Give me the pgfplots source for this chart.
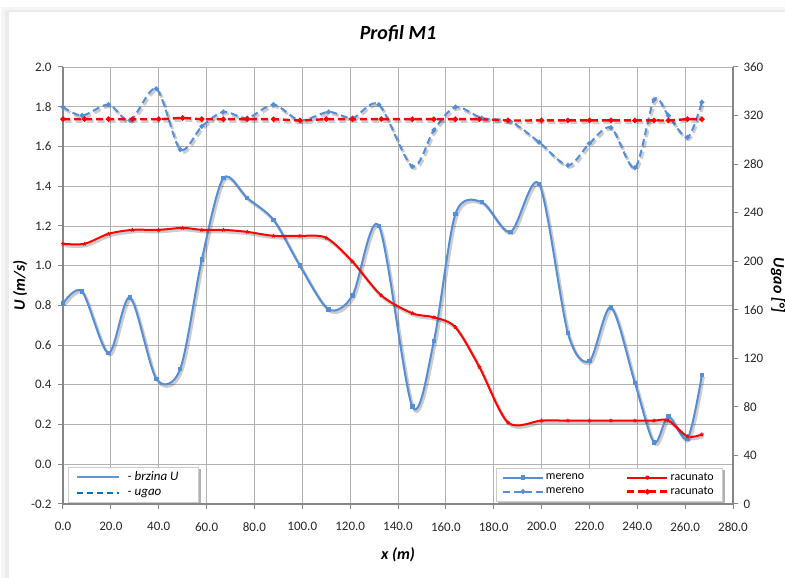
\documentclass[border=0pt]{standalone}
\usepackage{pgfplots}
\pgfplotsset{compat=1.18}
\usepackage{pgfplotstable}
\usepackage{fontspec}
\setmainfont{Carlito}
\pgfdeclarelayer{back}
\pgfsetlayers{back,main}
\definecolor{mblue}{RGB}{85,142,213}
\definecolor{lblue}{RGB}{91,155,213}
\definecolor{dblue}{RGB}{0,112,192}
\definecolor{gridc}{RGB}{178,178,178}
\definecolor{axc}{RGB}{134,134,134}

\pgfplotstableread{
xb u a xr ur ar
0 0.81 327 0 1.11 317
8 0.87 320 9 1.11 317
19 0.56 329 19 1.16 317
28 0.84 316 29 1.18 317
39 0.43 342 40 1.18 317
49 0.48 292 50 1.19 318
58 1.03 311 58 1.18 317
67 1.44 323 67 1.18 317
77 1.34 318 77 1.17 317
88 1.23 329 88 1.15 317
99 1.00 316 99 1.15 316
111 0.78 323 110 1.14 317
121 0.85 318 121 1.02 317
132 1.20 329 133 0.85 317
146 0.29 278 146 0.76 317
155 0.62 308 155 0.74 317
164 1.26 327 164 0.69 317
175 1.32 318 174 0.49 317
187 1.17 315 186 0.21 316
199 1.41 298 200 0.22 316
211 0.66 279 211 0.22 316
220 0.52 297 220 0.22 316
229 0.79 310 229 0.22 316
239 0.41 277 239 0.22 316
247 0.11 333 247 0.22 316
253 0.24 320 253 0.22 316
261 0.13 302 261 0.14 317
267 0.45 331 267 0.15 317
}\data

\pgfplotsset{
  base/.style={
    at={(0,0)}, anchor=south west, scale only axis,
    width=670pt, height=437pt,
    xmin=0, xmax=280,
    axis line style={axc, line width=1.2pt, -},
    tick style={axc, line width=1pt},
    tick align=outside, major tick length=5pt,
    /pgf/number format/assume math mode=true,
    ticklabel style={font=\fontsize{13}{15}\selectfont, text=black!85},
    label style={font=\fontsize{16}{18}\selectfont\bfseries\itshape},
  },
  shad/.style={black, opacity=0.2, line width=3pt, xshift=1.5pt, yshift=-2pt, forget plot, smooth, tension=0.5},
}

\begin{document}
\begin{tikzpicture}
\path[use as bounding box] (-63pt,-74pt) rectangle (722pt,504pt);
\begin{pgfonlayer}{back}
\fill[black!4] (-62pt,-90pt) rectangle (740pt,497pt);
\fill[black!8] (-58pt,-90pt) rectangle (740pt,494pt);
\fill[white] (-54pt,-90pt) rectangle (740pt,492pt);
\end{pgfonlayer}

\begin{axis}[base,
  ymin=-0.2, ymax=2.0, ytick distance=0.2, xtick distance=20,
  axis x line*=bottom, axis y line*=left,
  grid=major, major grid style={gridc, line width=0.8pt},
  /pgf/number format/.cd, fixed, fixed zerofill, precision=1, /pgfplots/.cd,
  xticklabel style={yshift=-10pt},
  yticklabel style={xshift=-3pt},
  title={Profil M1},
  title style={font=\fontsize{20}{22}\selectfont\bfseries\itshape, at={(axis description cs:0.5,1)}, anchor=center, yshift=27pt},
  xlabel={x (m)},
  xlabel style={at={(axis description cs:0.5,-0.1167)}, anchor=center},
  ylabel={U (m/s)},
  ylabel style={at={(axis description cs:-0.064,0.5)}, anchor=center, rotate=0},
  legend columns=2,
  legend cell align=left,
  legend image code/.code={\draw[mark repeat=2,mark phase=2,#1] plot coordinates {(0pt,0pt) (20pt,0pt) (40pt,0pt)};},
  legend style={name=legR, at={(axis description cs:0.9836,0.006)}, anchor=south east,
    font=\fontsize{12}{13}\selectfont, draw=black!20, fill=white,
    inner xsep=6pt, inner ysep=3pt, row sep=1pt,
    /tikz/every even column/.append style={column sep=40pt}},
]
\addplot[shad] table[x=xb,y=u]{\data};
\addplot[mblue, line width=2pt, smooth, tension=0.5, mark=square*, mark size=1.2pt, forget plot] table[x=xb,y=u]{\data};
\addplot[shad] table[x=xr,y=ur]{\data};
\addplot[red, line width=2pt, smooth, tension=0.5, mark=star, mark size=2pt, mark options={line width=1pt}, forget plot] table[x=xr,y=ur]{\data};
\addlegendimage{mblue, line width=2pt, mark=square*, mark size=1.2pt}
\addlegendentry{mereno}
\addlegendimage{red, line width=2pt, mark=star, mark size=2pt}
\addlegendentry{racunato}
\addlegendimage{mblue, line width=2pt, dash pattern=on 7pt off 4pt, mark=*, mark size=1.3pt, mark options={solid}}
\addlegendentry{mereno}
\addlegendimage{red, line width=2.4pt, dash pattern=on 7pt off 4pt, mark=*, mark size=1.3pt, mark options={solid}}
\addlegendentry{racunato}
\end{axis}

\begin{axis}[base,
  ymin=0, ymax=360, ytick distance=40,
  axis y line*=right, axis x line=none,
  yticklabel style={xshift=2pt},
  ylabel={Ugao [°]},
  ylabel style={at={(axis description cs:1.0672,0.5)}, anchor=center, rotate=180},
  legend cell align=left,
  legend image code/.code={\draw[#1] (0pt,0pt) -- (42pt,0pt);},
  legend style={name=legL, at={(axis description cs:0.0075,0.004)}, anchor=south west,
    font=\fontsize{13}{15}\selectfont\itshape, draw=black!20, fill=white,
    inner xsep=8pt, inner ysep=3pt, row sep=3pt},
]
\addplot[shad, dash pattern=on 7pt off 4pt] table[x=xb,y=a]{\data};
\addplot[mblue, line width=2pt, smooth, tension=0.5, dash pattern=on 7pt off 4pt, mark=*, mark size=1.3pt, mark options={solid}, forget plot] table[x=xb,y=a]{\data};
\addplot[shad, line width=3.4pt, dash pattern=on 7pt off 4pt] table[x=xr,y=ar]{\data};
\addplot[red, line width=2.4pt, smooth, tension=0.5, dash pattern=on 7pt off 4pt, mark=*, mark size=1.3pt, mark options={solid}, forget plot] table[x=xr,y=ar]{\data};
\addlegendimage{lblue, line width=1.5pt}
\addlegendentry{\hspace*{6pt}- brzina U\hspace*{10pt}}
\addlegendimage{dblue, line width=1.5pt, dash pattern=on 6pt off 4pt}
\addlegendentry{\hspace*{6pt}- ugao}
\end{axis}

\begin{pgfonlayer}{back}
\fill[black!30] ([shift={(2.5pt,-2.5pt)}]legR.south west) rectangle ([shift={(2.5pt,-2.5pt)}]legR.north east);
\fill[black!30] ([shift={(2.5pt,-2.5pt)}]legL.south west) rectangle ([shift={(2.5pt,-2.5pt)}]legL.north east);
\end{pgfonlayer}
\end{tikzpicture}
\end{document}
